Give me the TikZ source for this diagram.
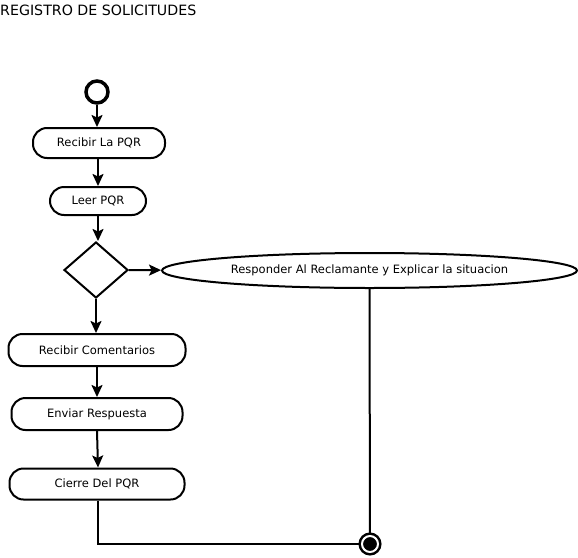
\documentclass[tikz,border=0pt]{standalone}
\usepackage{fontspec}
\setmainfont{DejaVu Sans}
\usetikzlibrary{arrows.meta, shapes.geometric, positioning}

\tikzset{
    flecha/.style={-{Stealth[length=12pt, width=11pt, inset=2.5pt]}, line width=2pt},
    linea/.style={line width=2pt},
    actividad/.style={draw, line width=2pt, rounded corners=14pt, inner sep=0pt,
        minimum height=30pt, font=\fontsize{11.5}{13}\selectfont},
    decision/.style={draw, diamond, line width=2pt, inner sep=0pt,
        minimum width=64pt, minimum height=56pt},
}

\begin{document}
\begin{tikzpicture}[x=1pt, y=-1pt]
\useasboundingbox (0,0) rectangle (578,557);

\node (titulo) [anchor=west, inner sep=0pt, font=\fontsize{14.2}{16}\selectfont] at (0,10) {REGISTRO DE SOLICITUDES};

% inicio y fin
\node (inicio) [circle, draw, line width=3.5pt, minimum size=22pt, inner sep=0pt] at (97,92) {};
\node (fin) [circle, draw, fill, line width=2.5pt, double=white, double distance=2pt,
    minimum size=16pt, inner sep=0pt] at (370,544) {};

% actividades
\node (recibir) [actividad, minimum width=132pt] at (99,143) {Recibir La PQR};
\node (leer) [actividad, minimum width=96pt, minimum height=28pt] at (98,201) {Leer PQR};
\node (dec) [decision] at (96,270) {};
\node (responder) [draw, ellipse, line width=2pt, inner sep=0pt, minimum width=415pt,
    minimum height=35pt, font=\fontsize{11.5}{13}\selectfont] at (369.5,270.5)
    {Responder Al Reclamante y Explicar la situacion};
\node (comentarios) [actividad, minimum width=177pt, minimum height=32pt] at (97,350) {Recibir Comentarios};
\node (enviar) [actividad, minimum width=171pt, minimum height=32pt] at (97,414) {Enviar Respuesta};
\node (cierre) [actividad, minimum width=175pt, minimum height=31pt] at (97,484) {Cierre Del PQR};

% conectores
\draw[flecha] (inicio) -- (inicio |- recibir.north);
\draw[flecha] (recibir.south -| leer) -- (leer);
\draw[flecha] (leer) -- (leer.south |- dec.north);
\draw[flecha] (dec) -- (responder);
\draw[flecha] (dec.south) -- (dec.south |- comentarios.north);
\draw[flecha] (comentarios) -- (enviar);
\draw[flecha] (enviar.south) -- ([xshift=1pt]cierre.north);
\draw[linea] ([xshift=1pt]cierre.south) |- (fin);
\draw[linea] (responder.south) -- (fin);
\end{tikzpicture}
\end{document}
